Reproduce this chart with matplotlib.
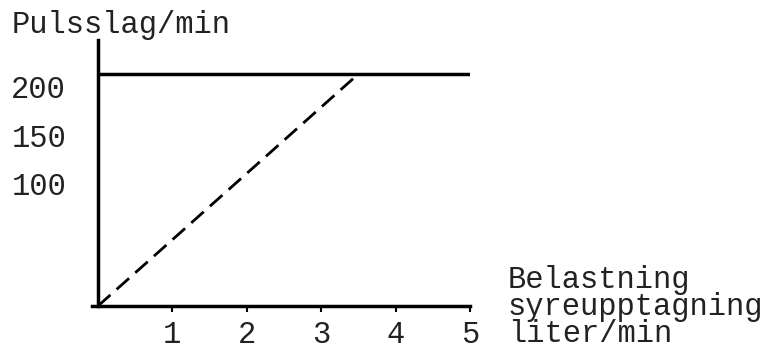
import matplotlib.pyplot as plt

# Values
load_ticks = [1, 2, 3, 4, 5]          # liter/min
pulse_ticks = [100, 150, 200]         # slag/min
max_pulse = 213                       # horizontal ceiling line
y_floor = -26                         # where the drawn axes meet
dashed_x = [0, 3.5]
dashed_y = [y_floor, max_pulse]
x_label_lines = ['Belastning', 'syreupptagning', 'liter/min']

plt.rcParams['font.family'] = ['Liberation Mono', 'DejaVu Sans Mono']
fs = 22
ink = '#222222'

fig = plt.figure(figsize=(7.76, 3.56), dpi=100)
ax = fig.add_axes([92 / 776, 50 / 356, 378 / 776, 266 / 356])

ax.set_xlim(-0.08, 5.0)
ax.set_ylim(y_floor, 248)

# axes drawn like the hand sketch
for side in ['top', 'right']:
    ax.spines[side].set_visible(False)
ax.spines['left'].set_position(('data', 0))
ax.spines['left'].set_linewidth(2.5)
ax.spines['bottom'].set_linewidth(2.5)

ax.hlines(max_pulse, 0, 5.0, colors='black', linewidth=2.5)
ax.plot(dashed_x, dashed_y, color='black', linewidth=2, dashes=(6, 3))

ax.set_xticks(load_ticks)
ax.set_xticklabels([str(t) for t in load_ticks])
ax.set_yticks(pulse_ticks)
ax.set_yticklabels([str(t) for t in pulse_ticks])
ax.tick_params(axis='x', direction='out', length=4, width=1.5, pad=6,
               labelsize=fs, labelcolor=ink)
ax.tick_params(axis='y', length=0, pad=23, labelsize=fs, labelcolor=ink)

fig.text(12 / 776, 1 - 25 / 356, 'Pulsslag/min', fontsize=fs, va='center',
         ha='left', color=ink)
fig.text(508 / 776, 1 - 307 / 356, '\n'.join(x_label_lines), fontsize=fs,
         va='center', ha='left', linespacing=0.88, color=ink)

fig.savefig('out.png', dpi=100)
